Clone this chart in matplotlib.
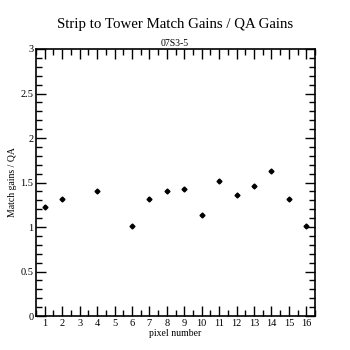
import numpy as np
import matplotlib.pyplot as plt
from matplotlib.ticker import MultipleLocator, FormatStrFormatter

plt.rcParams['font.family'] = ['Liberation Serif', 'DejaVu Serif']

# donnees
pixels = [1, 2, 4, 6, 7, 8, 9, 10, 11, 12, 13, 14, 15, 16]
ratio = [1.23, 1.32, 1.41, 1.015, 1.32, 1.41, 1.43, 1.135, 1.52, 1.365, 1.465, 1.625, 1.31, 1.01]
err = [0.02, 0.005, 0.005, 0.005, 0.02, 0.005, 0.005, 0.005, 0.02, 0.005, 0.005, 0.005, 0.005, 0.005]

fig = plt.figure(figsize=(3.5, 3.5), dpi=100)
ax = fig.add_axes([0.103, 0.097, 0.797, 0.763])

ax.errorbar(pixels, ratio, yerr=err, fmt='D', color='black', ms=2.5,
            elinewidth=1.2, capsize=0)

ax.set_xlim(0.5, 16.5)
ax.set_ylim(0, 3)
ax.set_xticks(range(1, 17))
ax.xaxis.set_minor_locator(MultipleLocator(0.5))
ax.yaxis.set_major_locator(MultipleLocator(0.5))
ax.yaxis.set_minor_locator(MultipleLocator(0.1))
ax.yaxis.set_major_formatter(FormatStrFormatter('%g'))

ax.tick_params(which='both', direction='in', top=True, right=True,
               labelsize=7.5, width=1, pad=2)
ax.tick_params(which='major', length=7)
ax.tick_params(which='minor', length=4)
for s in ax.spines.values():
    s.set_linewidth(1.2)

ax.set_xlabel('pixel number', fontsize=7, labelpad=1)
ax.set_ylabel('Match gains / QA', fontsize=7, labelpad=2.5)

fig.text(0.5, 0.93, 'Strip to Tower Match Gains / QA Gains', ha='center', va='center', fontsize=10.7)
fig.text(0.5, 0.875, '07S3-5', ha='center', va='center', fontsize=7)

fig.savefig('out.png', dpi=100)
